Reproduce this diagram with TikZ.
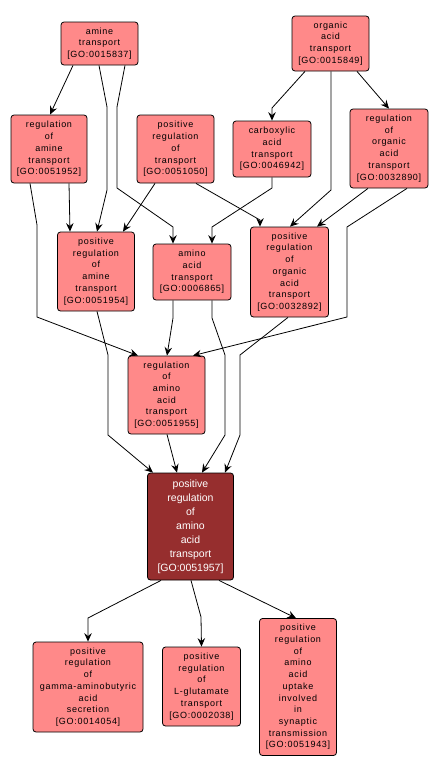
\documentclass[tikz,border=0pt]{standalone}
\usepackage{fontspec}
\setmainfont{Liberation Sans}
\newfontfamily\termfont[LetterSpace=8]{Liberation Sans}
\usepackage{tikz}
\usetikzlibrary{arrows.meta}
\definecolor{termfill}{RGB}{255,137,137}
\definecolor{focusfill}{RGB}{150,46,46}
\tikzset{
  term/.style={draw, line width=0.8pt, rounded corners=3pt, fill=termfill, align=center, inner sep=0pt, font=\termfont\fontsize{9}{11.7}\selectfont},
  focus/.style={term, fill=focusfill, text=white, font=\fontsize{10.5}{14}\selectfont},
  edge/.style={-{Stealth[length=8.5pt,width=7.5pt,inset=3pt]}, line width=0.8pt}
}

\begin{document}
\begin{tikzpicture}[x=1pt, y=-1pt]
\useasboundingbox (0,0) rectangle (438,774);
% terms
\node[term, minimum width=77pt, minimum height=43pt] (amine) at (99.5,43.5) {amine\\transport\\{[GO:0015837]}};
\node[term, minimum width=77pt, minimum height=55pt] (orgacid) at (330.5,43.5) {organic\\acid\\transport\\{[GO:0015849]}};
\node[term, minimum width=76pt, minimum height=68pt] (regamine) at (49,149) {regulation\\of\\amine\\transport\\{[GO:0051952]}};
\node[term, minimum width=77pt, minimum height=68pt] (posregtr) at (175.5,149) {positive\\regulation\\of\\transport\\{[GO:0051050]}};
\node[term, minimum width=78pt, minimum height=56pt] (carbox) at (272,149) {carboxylic\\acid\\transport\\{[GO:0046942]}};
\node[term, minimum width=78pt, minimum height=79pt] (regorgacid) at (389,148.5) {regulation\\of\\organic\\acid\\transport\\{[GO:0032890]}};
\node[term, minimum width=77pt, minimum height=79pt] (posregamine) at (96,271.5) {positive\\regulation\\of\\amine\\transport\\{[GO:0051954]}};
\node[term, minimum width=78pt, minimum height=56pt] (aminoacid) at (192,272) {amino\\acid\\transport\\{[GO:0006865]}};
\node[term, minimum width=78pt, minimum height=90pt] (posregorg) at (289.5,272) {positive\\regulation\\of\\organic\\acid\\transport\\{[GO:0032892]}};
\node[term, minimum width=77pt, minimum height=78pt] (regaa) at (166.5,395) {regulation\\of\\amino\\acid\\transport\\{[GO:0051955]}};
\node[focus, minimum width=86pt, minimum height=107pt] (posregaa) at (190.5,526.5) {positive\\regulation\\of\\amino\\acid\\transport\\{[GO:0051957]}};
\node[term, minimum width=110pt, minimum height=90pt] (gaba) at (88,687) {positive\\regulation\\of\\gamma-aminobutyric\\acid\\secretion\\{[GO:0014054]}};
\node[term, minimum width=78pt, minimum height=79pt] (glut) at (201.5,686.5) {positive\\regulation\\of\\L-glutamate\\transport\\{[GO:0002038]}};
\node[term, minimum width=77pt, minimum height=137pt] (synaptic) at (298,687) {positive\\regulation\\of\\amino\\acid\\uptake\\involved\\in\\synaptic\\transmission\\{[GO:0051943]}};
% links
\draw[edge] (amine.south -| 73,0) -- (regamine.north -| 50,0);
\draw[edge] (amine.south -| 99,0) -- (107,107) -- (107,190) -- (posregamine.north -| 97,0);
\draw[edge] (amine.south -| 125,0) -- (117,107) -- (117,188) -- (173,227) -- (aminoacid.north -| 173,0);
\draw[edge] (regamine.south -| 69,0) -- (posregamine.north -| 70,0);
\draw[edge] (regamine.south -| 30,0) -- (37,225) -- (37,317) -- (regaa.north -| 138,0);
\draw[edge] (posregtr.south -| 155,0) -- (posregamine.north -| 123,0);
\draw[edge] (posregtr.south -| 196,0) -- (260,220) -- (posregorg.north -| 260,0);
\draw[edge] (carbox.south) -- (272,188) -- (212,227) -- (aminoacid.north -| 212,0);
\draw[edge] (orgacid.south -| 305,0) -- (272,108) -- (carbox.north);
\draw[edge] (orgacid.south -| 357,0) -- (regorgacid.north);
\draw[edge] (orgacid.south -| 331,0) -- (331,190) -- (posregorg.north -| 290,0);
\draw[edge] (regorgacid.south -| 368,0) -- (posregorg.north -| 317,0);
\draw[edge] (regorgacid.south -| 407,0) -- (347,227) -- (347,317) -- (regaa.north -| 193,0);
\draw[edge] (aminoacid.south -| 173,0) -- (173,318) -- (regaa.north -| 167,0);
\draw[edge] (aminoacid.south -| 212,0) -- (212,318) -- (225,355) -- (225,435) -- (posregaa.north -| 202,0);
\draw[edge] (posregorg.south -| 288,0) -- (240,355) -- (240,435) -- (posregaa.north -| 225,0);
\draw[edge] (posregamine.south -| 97,0) -- (108,355) -- (108,435) -- (posregaa.north -| 153,0);
\draw[edge] (regaa.south -| 167,0) -- (posregaa.north -| 177,0);
\draw[edge] (posregaa.south -| 161,0) -- (88,618) -- (gaba.north);
\draw[edge] (posregaa.south -| 191,0) -- (201,617) -- (glut.north);
\draw[edge] (posregaa.south -| 219,0) -- (synaptic.north -| 296,0);
\end{tikzpicture}
\end{document}
